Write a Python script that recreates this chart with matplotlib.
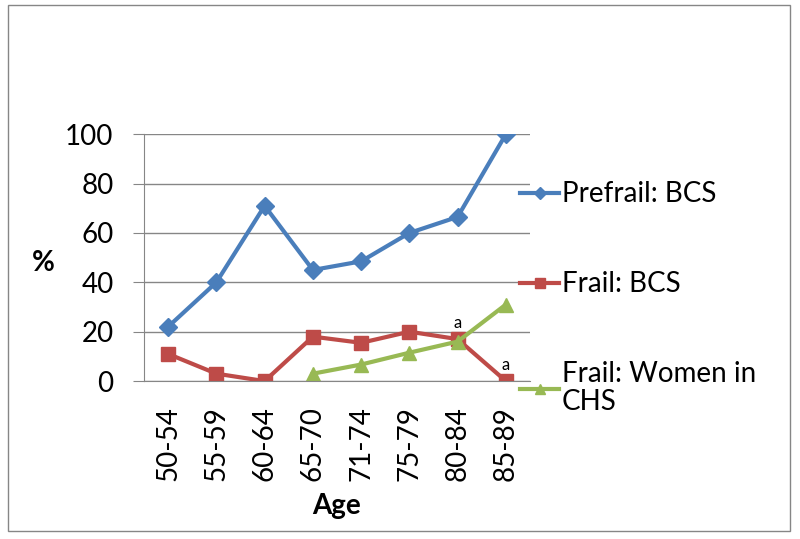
import matplotlib.pyplot as plt
from matplotlib.patches import Rectangle

ages = ['50-54', '55-59', '60-64', '65-70', '71-74', '75-79', '80-84', '85-89']
prefrail_bcs = [22, 40, 71, 45, 48.5, 60, 66.5, 100]
frail_bcs = [11, 3, 0, 18, 15.5, 20, 17, 0]
frail_chs = [None, None, None, 3, 6.7, 11.5, 16, 31]
yticks = [0, 20, 40, 60, 80, 100]

plt.rcParams['font.family'] = ['Lato', 'DejaVu Sans']

fig = plt.figure(figsize=(8, 5.39), dpi=100)
ax = fig.add_axes([0.18, 0.293, 0.4825, 0.458])

x = list(range(len(ages)))
ax.plot(x, prefrail_bcs, color='#4a7ebb', lw=3, marker='D', ms=9, label='Prefrail: BCS')
ax.plot(x, frail_bcs, color='#be4b48', lw=3, marker='s', ms=10, label='Frail: BCS')
cx = [i for i, v in zip(x, frail_chs) if v is not None]
cy = [v for v in frail_chs if v is not None]
ax.plot(cx, cy, color='#98b954', lw=3, marker='^', ms=10, label='Frail: Women in\nCHS')

for i in (6, 7):
    ax.annotate('a', (i, frail_bcs[i]), xytext=(0, 6), textcoords='offset points',
                ha='center', va='bottom', fontsize=12)

ax.set_xlim(-0.5, len(ages) - 0.5)
ax.set_ylim(0, 100)
ax.set_yticks(yticks)
ax.set_xticks(x)
ax.set_xticklabels(ages, rotation=90, fontsize=20)
ax.tick_params(axis='y', labelsize=20, length=8, color='#868686', pad=14)
ax.tick_params(axis='x', length=0, pad=18)
ax.grid(axis='y', color='#868686', lw=1)
ax.set_axisbelow(True)
for s in ('top', 'right'):
    ax.spines[s].set_visible(False)
ax.spines['left'].set_color('#868686')
ax.spines['bottom'].set_color('#868686')

ax.set_xlabel('Age', fontsize=20, fontweight='bold', labelpad=9)
ax.set_ylabel('%', fontsize=20, fontweight='bold', rotation=0, va='center')
ax.yaxis.set_label_coords(-0.26, 0.48)

leg = ax.legend(loc='center left', bbox_to_anchor=(0.975, 0.335), frameon=False, fontsize=20,
                handlelength=1.4, labelspacing=2.3, handletextpad=0.1, borderpad=0,
                borderaxespad=0, markerscale=0.7)
for t in leg.get_texts():
    t.set_linespacing(1.1)

fig.patches.append(Rectangle((0.01, 0.015), 0.978, 0.975, transform=fig.transFigure,
                             fill=False, edgecolor='#868686', lw=1))

fig.savefig('out.png', dpi=100)
